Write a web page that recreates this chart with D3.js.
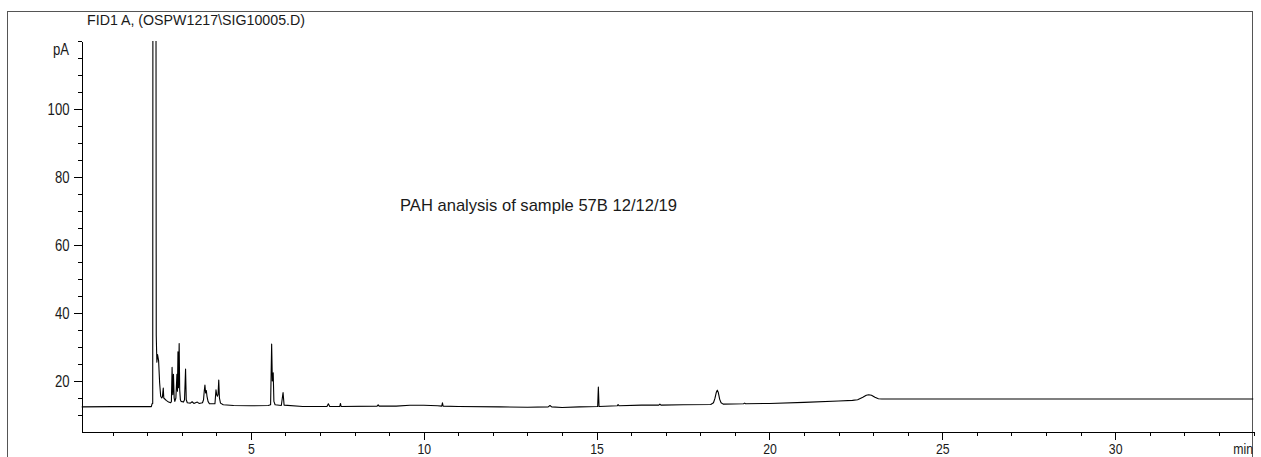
<!DOCTYPE html>
<meta charset="utf-8">
<style>
body { margin: 0; background: #fff; }
svg { display: block; }
.axis path, .axis line { stroke: #000; stroke-width: 1px; shape-rendering: crispEdges; }
text { font-family: "Liberation Sans", Arial, sans-serif; fill: #1a1a1a; }
</style>
<body>
<script src="https://cdn.jsdelivr.net/npm/d3@7"></script>
<script>
var width = 1261, height = 457;

// FID trace: [retention time (min), signal (pA)]
var trace = [
  [0.10, 12.4], [1.0, 12.45], [2.12, 12.45], [2.14, 13.3], [2.16, 13.4],
  [2.165, 125], [2.255, 125], [2.262, 33.5], [2.28, 25.5], [2.30, 27.8],
  [2.33, 26.0], [2.36, 19.5], [2.39, 15.5], [2.42, 15.0], [2.44, 15.3],
  [2.465, 17.9], [2.48, 15.0], [2.55, 14.3], [2.62, 13.8], [2.68, 13.6],
  [2.70, 14.0], [2.72, 24.0], [2.74, 16.0], [2.76, 22.0], [2.78, 15.0],
  [2.80, 14.0], [2.83, 15.0], [2.86, 22.0], [2.875, 17.0], [2.89, 28.6],
  [2.905, 18.0], [2.925, 31.0], [2.94, 17.5], [2.96, 14.5], [2.98, 14.0],
  [3.05, 13.8], [3.08, 14.5], [3.11, 23.5], [3.13, 14.5], [3.16, 13.6],
  [3.25, 13.5], [3.30, 13.9], [3.35, 13.4], [3.45, 13.8], [3.50, 13.4],
  [3.60, 13.6], [3.63, 14.5], [3.65, 17.0], [3.67, 18.8], [3.69, 16.5],
  [3.71, 17.2], [3.73, 15.5], [3.76, 14.0], [3.80, 13.3], [3.96, 13.3],
  [3.99, 17.4], [4.01, 16.0], [4.03, 15.5], [4.05, 16.0], [4.07, 20.3],
  [4.09, 15.0], [4.12, 13.5], [4.20, 13.0], [4.50, 12.8], [5.00, 12.7],
  [5.50, 12.8], [5.57, 13.0], [5.60, 30.9], [5.62, 20.0], [5.645, 22.4],
  [5.665, 14.0], [5.70, 13.0], [5.88, 12.8], [5.93, 16.6], [5.96, 12.9],
  [6.50, 12.5], [7.20, 12.5], [7.24, 13.3], [7.28, 12.5], [7.57, 12.5],
  [7.59, 13.4], [7.61, 12.5], [8.65, 12.6], [8.68, 13.0], [8.71, 12.6],
  [9.20, 12.6], [9.60, 12.85], [10.0, 12.85], [10.4, 12.7], [10.52, 12.6],
  [10.54, 13.6], [10.56, 12.6], [11.0, 12.5], [12.2, 12.4], [13.0, 12.3],
  [13.6, 12.4], [13.65, 12.8], [13.7, 12.4], [14.0, 12.2], [14.5, 12.4],
  [15.03, 12.5], [15.05, 18.2], [15.07, 12.5], [15.6, 12.7], [15.62, 13.1],
  [15.65, 12.7], [16.3, 12.9], [16.8, 12.9], [16.83, 13.2], [16.86, 12.9],
  [17.5, 13.0], [18.30, 13.1], [18.38, 13.6], [18.42, 14.8], [18.46, 16.6],
  [18.49, 17.3], [18.52, 16.6], [18.56, 14.6], [18.60, 13.6], [18.66, 13.2],
  [19.25, 13.3], [19.28, 13.5], [19.31, 13.3], [20.0, 13.4], [21.0, 13.7],
  [22.0, 14.1], [22.4, 14.3], [22.55, 14.5], [22.7, 15.2], [22.8, 15.8],
  [22.87, 15.95], [22.95, 15.8], [23.05, 15.2], [23.15, 14.8], [23.25, 14.7],
  [34.0, 14.7]
];

var xMajor = [5, 10, 15, 20, 25, 30];
var xMinor = d3.range(1, 35);
var yMajor = [20, 40, 60, 80, 100];
var yMinor = d3.range(10, 121, 5);
var title = "FID1 A,  (OSPW1217\\SIG10005.D)";
var note = "PAH analysis of sample 57B 12/12/19";
var narrow = 0.82; // labels are set in a condensed face

var svg = d3.select("body").append("svg")
    .attr("width", width)
    .attr("height", height);

var x = d3.scaleLinear().domain([0.1, 34]).range([81.5, 1253.5]);
var y = d3.scaleLinear().domain([5, 120]).range([432, 41]);

// outer frame (open at the bottom)
svg.append("path")
    .attr("d", "M7.5,457V11.5H1252.5V457")
    .attr("fill", "none")
    .attr("stroke", "#555")
    .attr("shape-rendering", "crispEdges");

svg.append("text")
    .attr("x", 87).attr("y", 25)
    .attr("font-size", "14px")
    .attr("textLength", 218)
    .attr("lengthAdjust", "spacingAndGlyphs")
    .text(title);

// x axis
svg.append("g").attr("class", "axis")
    .attr("transform", "translate(0," + y(5) + ")")
    .call(d3.axisBottom(x).tickValues(xMinor).tickSize(4).tickSizeOuter(0).tickFormat(""));

var xg = svg.append("g").attr("class", "axis")
    .attr("transform", "translate(0," + y(5) + ")")
    .call(d3.axisBottom(x).tickValues(xMajor).tickSize(8).tickFormat(d3.format("d")));
xg.select(".domain").remove();
xg.selectAll("text")
    .attr("y", 22).attr("dy", 0)
    .attr("font-size", "15px")
    .attr("font-family", null)
    .attr("transform", "scale(" + narrow + ",1)");

svg.append("text")
    .attr("text-anchor", "end")
    .attr("transform", "translate(1253,454) scale(" + narrow + ",1)")
    .attr("font-size", "15px")
    .text("min");

// y axis
svg.append("g").attr("class", "axis")
    .attr("transform", "translate(" + x(0.1) + ",0)")
    .call(d3.axisLeft(y).tickValues(yMinor).tickSize(4).tickSizeOuter(0).tickFormat(""));

var yg = svg.append("g").attr("class", "axis")
    .attr("transform", "translate(" + x(0.1) + ",0)")
    .call(d3.axisLeft(y).tickValues(yMajor).tickSize(8).tickFormat(d3.format("d")));
yg.select(".domain").remove();
yg.selectAll("text")
    .attr("x", -12 / narrow)
    .attr("dy", "0.35em")
    .attr("font-size", "16px")
    .attr("font-family", null)
    .attr("transform", "scale(" + narrow + ",1)");

svg.append("text")
    .attr("text-anchor", "end")
    .attr("transform", "translate(69,55) scale(" + narrow + ",1)")
    .attr("font-size", "16px")
    .text("pA");

// trace
svg.append("clipPath").attr("id", "plot")
  .append("rect")
    .attr("x", x(0.1)).attr("y", y(120))
    .attr("width", x(34) - x(0.1)).attr("height", y(5) - y(120));

var line = d3.line()
    .x(function(d) { return x(d[0]); })
    .y(function(d) { return y(d[1]); });

svg.append("path")
    .datum(trace)
    .attr("clip-path", "url(#plot)")
    .attr("fill", "none")
    .attr("stroke", "#000")
    .attr("stroke-width", 1.1)
    .attr("stroke-linejoin", "round")
    .attr("d", line);

svg.append("text")
    .attr("x", 400).attr("y", 211)
    .attr("font-size", "17px")
    .attr("textLength", 277)
    .attr("lengthAdjust", "spacingAndGlyphs")
    .text(note);
</script>
</body>
